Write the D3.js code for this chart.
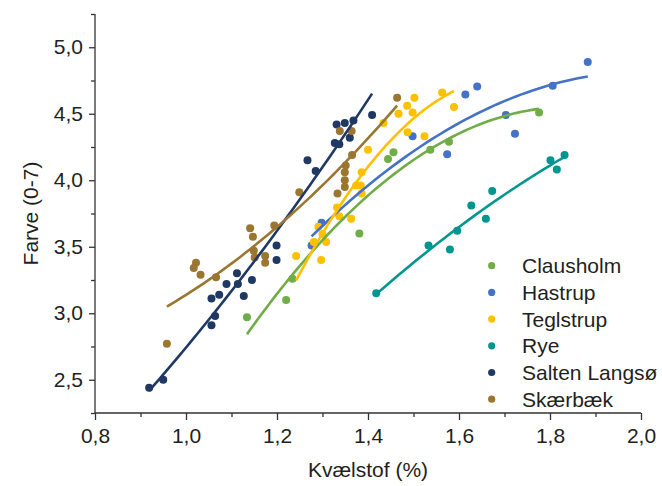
<!DOCTYPE html>
<html><head><meta charset="utf-8">
<script src="https://cdn.jsdelivr.net/npm/d3@7"></script>
<style>body{margin:0;background:#fff}svg{display:block}text{font-family:"Liberation Sans",Arial,sans-serif;fill:#231f20}</style>
</head><body><svg id="c" width="662" height="486"></svg>
<script>
// ---- data ----
const seriesNames = ["Clausholm","Hastrup","Teglstrup","Rye","Salten Langsø","Skærbæk"];
const seriesColors = ["#70AD47","#4472C4","#FFC000","#009690","#203864","#9A7630"];
const clausholmX = [1.134,1.220,1.234,1.381,1.444,1.456,1.537,1.578,1.776];
const clausholmY = [2.97,3.10,3.26,3.60,4.16,4.21,4.23,4.29,4.51];
const hastrupX = [1.276,1.298,1.498,1.574,1.614,1.640,1.703,1.723,1.806,1.883];
const hastrupY = [3.51,3.68,4.33,4.195,4.645,4.705,4.49,4.35,4.71,4.89];
const teglstrupX = [1.563,1.589,1.502,1.486,1.498,1.467,1.434,1.487,1.524,1.400,1.386,1.374,1.384,1.386,1.332,1.337,1.363,1.291,1.300,1.281,1.308,1.242,1.297];
const teglstrupY = [4.66,4.55,4.62,4.56,4.51,4.50,4.43,4.36,4.33,4.23,4.06,3.96,3.96,3.90,3.795,3.73,3.71,3.65,3.595,3.535,3.535,3.43,3.40];
const ryeX = [1.418,1.533,1.580,1.596,1.627,1.659,1.673,1.801,1.815,1.832];
const ryeY = [3.15,3.51,3.48,3.62,3.81,3.71,3.92,4.15,4.08,4.19];
const saltenX = [0.919,0.950,1.056,1.064,1.056,1.073,1.089,1.112,1.114,1.127,1.145,1.199,1.199,1.267,1.285,1.331,1.349,1.368,1.327,1.337,1.360,1.409];
const saltenY = [2.44,2.50,2.91,2.98,3.11,3.14,3.22,3.30,3.22,3.13,3.25,3.51,3.40,4.15,4.07,4.42,4.43,4.45,4.28,4.27,4.32,4.49];
const skaerbaekX = [0.958,1.022,1.017,1.032,1.066,1.141,1.147,1.149,1.151,1.174,1.174,1.194,1.249,1.333,1.349,1.349,1.349,1.351,1.365,1.338,1.364,1.464];
const skaerbaekY = [2.77,3.38,3.34,3.29,3.27,3.64,3.575,3.47,3.42,3.43,3.38,3.66,3.91,3.90,3.95,4.00,4.06,4.11,4.19,4.37,4.37,4.62];
const xTicks = [0.8,1.0,1.2,1.4,1.6,1.8,2.0];
const yTicks = [2.5,3.0,3.5,4.0,4.5,5.0];
const xTitle = "Kvælstof (%)";
const yTitle = "Farve (0-7)";

const allX = [clausholmX,hastrupX,teglstrupX,ryeX,saltenX,skaerbaekX];
const allY = [clausholmY,hastrupY,teglstrupY,ryeY,saltenY,skaerbaekY];

// ---- layout ----
const svg = d3.select("#c");
const L=95, R=641, T=14, B=413;
const x = d3.scaleLinear().domain([0.8,2.0]).range([L,R]);
const y = d3.scaleLinear().domain([2.25,5.25]).range([B,T]);
const fmt = d => d.toFixed(1).replace(".", ",");

// quadratic least squares fit
function quadFit(xs, ys){
  let S=[0,0,0,0,0], Sy=[0,0,0];
  xs.forEach((xv,i)=>{let p=1;for(let k=0;k<5;k++){S[k]+=p;p*=xv;} Sy[0]+=ys[i];Sy[1]+=ys[i]*xv;Sy[2]+=ys[i]*xv*xv;});
  const A=[[S[0],S[1],S[2],Sy[0]],[S[1],S[2],S[3],Sy[1]],[S[2],S[3],S[4],Sy[2]]];
  for(let i=0;i<3;i++){let m=i;for(let r=i+1;r<3;r++)if(Math.abs(A[r][i])>Math.abs(A[m][i]))m=r;[A[i],A[m]]=[A[m],A[i]];
    for(let r=0;r<3;r++){if(r===i)continue;const f=A[r][i]/A[i][i];for(let c=i;c<4;c++)A[r][c]-=f*A[i][c];}}
  return [A[0][3]/A[0][0],A[1][3]/A[1][1],A[2][3]/A[2][2]];
}

// axes
const xAxis = svg.append("g").attr("transform",`translate(0,${B})`)
  .call(d3.axisBottom(x).tickValues(xTicks).tickFormat(fmt).tickSize(7).tickPadding(8));
svg.append("g").attr("transform",`translate(0,${B})`)
  .call(d3.axisBottom(x).tickValues(d3.range(0.9,2.0,0.2)).tickFormat("").tickSize(4))
  .select(".domain").remove();
const yAxis = svg.append("g").attr("transform",`translate(${L},0)`)
  .call(d3.axisLeft(y).tickValues(yTicks).tickFormat(fmt).tickSize(6).tickPadding(6));
svg.append("g").attr("transform",`translate(${L},0)`)
  .call(d3.axisLeft(y).tickValues(d3.range(2.25,5.3,0.5)).tickFormat("").tickSize(4))
  .select(".domain").remove();
svg.selectAll(".domain").attr("d", function(){ return d3.select(this.parentNode).attr("transform").includes(`translate(0,${B})`) ? `M${L},0H${R}` : `M0,${B}V${T}`; });
svg.selectAll(".tick line, .domain").attr("stroke","#333").attr("stroke-width",1.3);
svg.selectAll(".tick text").style("font-size","21px").attr("fill","#231f20");

svg.append("text").attr("x",(L+R)/2).attr("y",477).attr("text-anchor","middle").style("font-size","21px").text(xTitle);
svg.append("text").attr("transform",`translate(38,${(T+B)/2}) rotate(-90)`).attr("text-anchor","middle").style("font-size","21px").text(yTitle);

// marks
const plot = svg.append("g");
seriesNames.forEach((name,s)=>{
  const xs=allX[s], ys=allY[s], col=seriesColors[s];
  const pts = xs.map((v,i)=>[v,ys[i]]);
  plot.append("g").selectAll("circle").data(pts).join("circle")
    .attr("cx",d=>x(d[0])).attr("cy",d=>y(d[1])).attr("r",4).attr("fill",col);
});
seriesNames.forEach((name,s)=>{
  const xs=allX[s], ys=allY[s], col=seriesColors[s];
  const c = quadFit(xs,ys);
  const [x0,x1]=d3.extent(xs);
  const line = d3.range(0,51).map(i=>{const xv=x0+(x1-x0)*i/50;return [xv,c[0]+c[1]*xv+c[2]*xv*xv];});
  plot.append("path").datum(line).attr("fill","none").attr("stroke",col).attr("stroke-width",2.6)
    .attr("d",d3.line().x(d=>x(d[0])).y(d=>y(d[1])));
});

// legend
const lg = svg.append("g");
seriesNames.forEach((name,s)=>{
  const yy = 265.7 + s*26.7;
  lg.append("circle").attr("cx",491.7).attr("cy",yy).attr("r",3.6).attr("fill",seriesColors[s]);
  lg.append("text").attr("x",522).attr("y",yy+7.5).style("font-size","21px").text(name);
});
</script></body></html>
